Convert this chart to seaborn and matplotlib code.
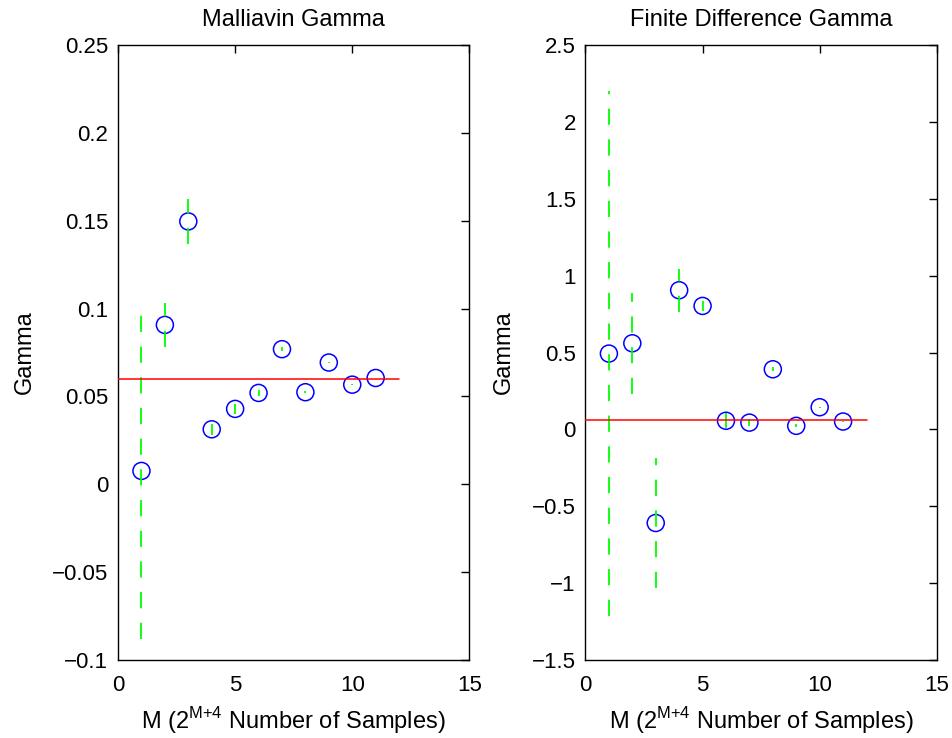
import matplotlib
matplotlib.use("Agg")
import matplotlib.pyplot as plt
import seaborn as sns
import numpy as np
import pandas as pd
from matplotlib.ticker import FuncFormatter, MultipleLocator

# ---- data ----
M = [1, 2, 3, 4, 5, 6, 7, 8, 9, 10, 11]
malliavin_gamma = [0.0076, 0.0907, 0.1496, 0.0313, 0.0429, 0.0520, 0.0769, 0.0524, 0.0693, 0.0567, 0.0605]
malliavin_err = [0.0955, 0.0125, 0.0128, 0.0030, 0.0028, 0.0015, 0.0010, 0.0005, 0.0003, 0.0002, 0.0001]
fd_gamma = [0.493, 0.560, -0.609, 0.905, 0.803, 0.056, 0.044, 0.391, 0.023, 0.144, 0.051]
fd_err = [1.71, 0.33, 0.42, 0.14, 0.035, 0.05, 0.025, 0.014, 0.01, 0.004, 0.001]
true_gamma = 0.06
true_x = [0, 12]
titles = ["Malliavin Gamma", "Finite Difference Gamma"]
xlabel = r"M (2$^{\mathregular{M{+}4}}$ Number of Samples)"
ylabel = "Gamma"

sns.set_style("white")
plt.rcParams["font.family"] = ["Liberation Sans", "DejaVu Sans"]
plt.rcParams["axes.unicode_minus"] = True
plt.rcParams["text.color"] = "black"
plt.rcParams["axes.labelcolor"] = "black"

fig = plt.figure(figsize=(9.52, 7.38), dpi=100)
ax1 = fig.add_axes([0.124, 0.1057, 0.369, 0.8333])
ax2 = fig.add_axes([0.615, 0.1057, 0.369, 0.8333])

def fmt(v, pos):
    s = "%g" % round(v, 6)
    if s == "-0":
        s = "0"
    return s.replace("-", "\u2212")

panels = [
    (ax1, malliavin_gamma, malliavin_err, (-0.1, 0.25), 0.05),
    (ax2, fd_gamma, fd_err, (-1.5, 2.5), 0.5),
]

for i, (ax, g, e, ylim, step) in enumerate(panels):
    df = pd.DataFrame({"M": M, "Gamma": g, "err": e})
    sns.scatterplot(data=df, x="M", y="Gamma", ax=ax, marker="o", s=150,
                    facecolors="none", edgecolor="#0000ff", linewidth=1.1, zorder=2)
    lo = np.array(g) - np.array(e)
    hi = np.array(g) + np.array(e)
    ax.vlines(M, lo, hi, colors="#00ff00", linestyles=(0, (9, 8)), linewidth=1.3, zorder=3)
    tdf = pd.DataFrame({"x": true_x, "y": [true_gamma, true_gamma]})
    sns.lineplot(data=tdf, x="x", y="y", ax=ax, color="#ff0000", linewidth=1.1, zorder=4)
    ax.set_xlim(0, 15)
    ax.set_ylim(*ylim)
    ax.xaxis.set_major_locator(MultipleLocator(5))
    ax.yaxis.set_major_locator(MultipleLocator(step))
    ax.yaxis.set_major_formatter(FuncFormatter(fmt))
    ax.xaxis.set_major_formatter(FuncFormatter(fmt))
    ax.set_title(titles[i], fontsize=17, pad=14, color="black")
    ax.set_xlabel(xlabel, fontsize=17, labelpad=6)
    ax.set_ylabel(ylabel, fontsize=17, labelpad=12)
    ax.tick_params(direction="in", length=6, width=1, labelsize=16, colors="black",
                   top=True, right=True)
    ax.tick_params(axis="x", pad=11)
    ax.tick_params(axis="y", pad=7)
    for side in ["top", "right", "left", "bottom"]:
        ax.spines[side].set_visible(True)
        ax.spines[side].set_color("black")
        ax.spines[side].set_linewidth(1.0)
    ax.grid(False)

fig.savefig("out.png", dpi=100, facecolor="white")
